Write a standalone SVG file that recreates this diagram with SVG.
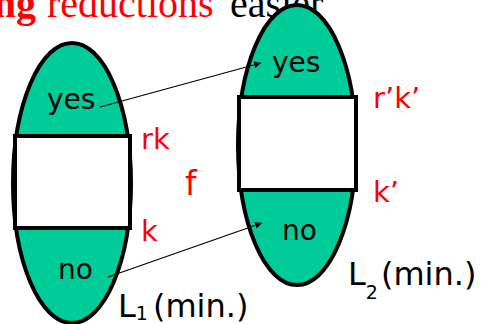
<svg xmlns="http://www.w3.org/2000/svg" width="481" height="324" viewBox="0 0 481 324">
<style>
.blob{fill:#00CC99;stroke:#000;stroke-width:4}
.box{fill:#fff;stroke:#000;stroke-width:4}
.lbl{font-family:"DejaVu Sans",sans-serif;font-size:28px;fill:#000}
.red{font-family:"DejaVu Sans",sans-serif;font-size:29px;fill:#FF0000}
.name{font-family:"DejaVu Sans",sans-serif;font-size:32px;fill:#000}
.sub{font-size:19px}
.title{font-family:"Liberation Serif",serif;font-size:40px}
.conn{stroke:#000;stroke-width:1.2;fill:none;marker-end:url(#ah)}
</style>
<defs>
<marker id="ah" viewBox="0 0 10 10" refX="10" refY="5" markerWidth="7" markerHeight="7" markerUnits="userSpaceOnUse" orient="auto">
<path d="M0,0 L10,5 L0,10 z" fill="#000"/>
</marker>
</defs>
<rect width="481" height="324" fill="#fff"/>
<g id="title">
<text class="title" x="36" y="17" text-anchor="end" font-weight="bold" fill="#FF0000">ng</text>
<text class="title" x="47" y="17" fill="#FF0000">reductions</text>
<text class="title" x="230" y="17" fill="#000">easier</text>
</g>
<g id="L1">
<ellipse class="blob" cx="72" cy="183" rx="59" ry="140"/>
<rect class="box" x="15" y="136" width="115" height="92"/>
<text class="lbl" x="47" y="109">yes</text>
<text class="lbl" x="58" y="279">no</text>
<text class="name" x="118" y="317">L<tspan class="sub" dy="3">1</tspan><tspan dx="5" dy="-3">(min.)</tspan></text>
</g>
<g id="L2">
<ellipse class="blob" cx="297" cy="145" rx="59" ry="140"/>
<rect class="box" x="239" y="97" width="117" height="93"/>
<text class="lbl" x="272" y="72">yes</text>
<text class="lbl" x="282" y="240">no</text>
<text class="name" x="348" y="285">L<tspan class="sub" dy="14">2</tspan><tspan dx="3" dy="-14">(min.)</tspan></text>
</g>
<g id="labels">
<text class="red" x="141" y="149">rk</text>
<text class="red" x="185" y="195" style="font-size:33px">f</text>
<text class="red" x="141" y="241">k</text>
<text class="red" x="373" y="108">r’k’</text>
<text class="red" x="373" y="202">k’</text>
</g>
<g id="connectors">
<line class="conn" x1="100" y1="107" x2="261" y2="63"/>
<line class="conn" x1="108" y1="277" x2="262" y2="223"/>
</g>
</svg>
